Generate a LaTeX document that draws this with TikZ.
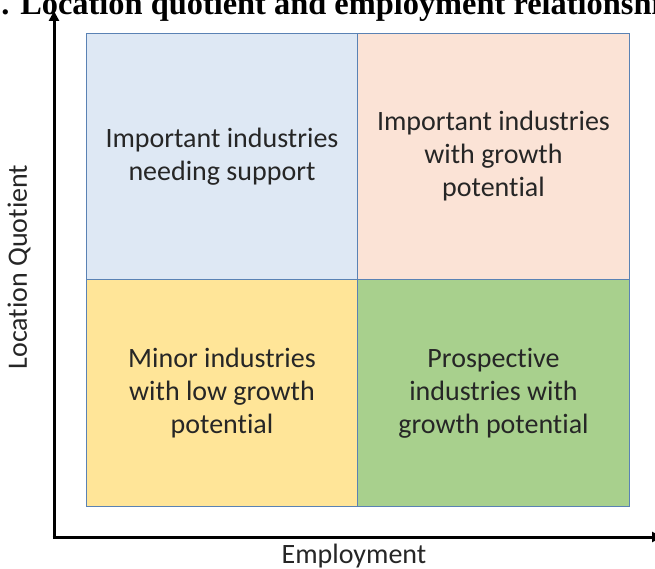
\documentclass[tikz,border=0pt]{standalone}
\usepackage{fontspec}
\setmainfont{Carlito}[Ligatures={NoCommon}]
\newfontfamily\titlefont{Liberation Serif}
\usetikzlibrary{arrows.meta}
\definecolor{qblue}{HTML}{DEE8F4}
\definecolor{qpeach}{HTML}{FBE3D6}
\definecolor{qyellow}{HTML}{FFE598}
\definecolor{qgreen}{HTML}{A8D08D}
\definecolor{qline}{HTML}{5A82B4}
\tikzset{
  quad/.style={draw=qline, line width=1pt, minimum width=271pt, minimum height=246pt, inner sep=0pt, align=center, anchor=north west,
    font=\fontsize{28}{33}\selectfont, text=black!85},
  axis/.style={line width=3pt, -{Triangle[length=10pt,width=10pt]}},
  axlabel/.style={font=\fontsize{28}{33}\selectfont, text=black!85, inner sep=0pt},
}
\begin{document}
\begin{tikzpicture}[x=1pt,y=1pt]
\useasboundingbox (0,-569) rectangle (655,0);
\clip (0,-569) rectangle (655,0);
\fill[white] (0,-569) rectangle (655,0);
% title (cut off by the picture's edge)
\node[anchor=base west, inner sep=0pt, font=\titlefont\bfseries\fontsize{32.4}{36}\selectfont] (title) at (-15,-15) {1. Location quotient and employment relationship};
% quadrants
\node[quad, fill=qblue, minimum width=271pt, minimum height=246pt] (q1) at (86,-33) {Important industries\\needing support};
\node[quad, fill=qpeach, minimum width=272pt, minimum height=246pt] (q2) at (357,-33) {Important industries\\with growth\\potential};
\node[quad, fill=qyellow, minimum width=271pt, minimum height=227pt] (q3) at (86,-279) {Minor industries\\with low growth\\potential};
\node[quad, fill=qgreen, minimum width=272pt, minimum height=227pt] (q4) at (357,-279) {Prospective\\industries with\\growth potential};
% axes
\coordinate (o) at (54,-537);
\coordinate (ytop) at (54,-11);
\coordinate (xend) at (662,-537);
\draw[axis] ([yshift=-1.5pt]o) -- (ytop);
\draw[axis] ([xshift=-1.5pt]o) -- (xend);
\node[axlabel, rotate=90] (ylab) at (19,-267) {Location Quotient};
\node[axlabel] (xlab) at (354,-556) {Employment};
\end{tikzpicture}
\end{document}
